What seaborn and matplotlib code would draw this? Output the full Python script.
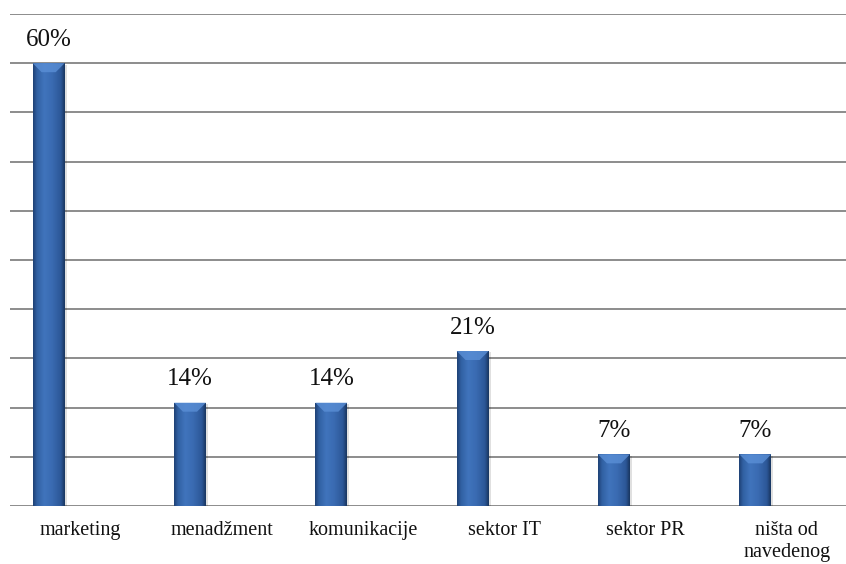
import numpy as np
import pandas as pd
import matplotlib
matplotlib.use("Agg")
import matplotlib.pyplot as plt
from matplotlib.colors import LinearSegmentedColormap
from matplotlib.patches import Polygon, Rectangle
import seaborn as sns

categories = ["marketing", "menadžment", "komunikacije", "sektor IT", "sektor PR", "ništa od\nnavedenog"]
values = [60, 14, 14, 21, 7, 7]

sns.set_theme(style="white")
plt.rcParams["font.family"] = ["Liberation Serif", "DejaVu Serif"]

df = pd.DataFrame({"category": categories, "value": values})

W, H = 846, 564
fig = plt.figure(figsize=(W / 100, H / 100), dpi=100)
ax = fig.add_axes([9.5 / W, 58 / H, 848 / W, 492 / H])

bar_w = 0.226
shift = -0.223
sns.barplot(data=df, x="category", y="value", ax=ax, width=bar_w,
            color="#2f5f9f", saturation=1, edgecolor="none", zorder=3)

step = 20 / 3
ax.set_ylim(0, 10 * step)
ax.set_xlim(-0.5, len(categories) - 0.5)
ax.set_yticks(np.arange(11) * step)
ax.set_yticklabels([])
ax.yaxis.grid(True, color="#8c8c8c", linewidth=1.4, zorder=0)
ax.set_axisbelow(True)
for s in ax.spines.values():
    s.set_visible(False)
ax.tick_params(axis="x", length=0, pad=11, labelsize=14.5, colors="#111111")
ax.tick_params(axis="y", length=0)
ax.set_xlabel("")
ax.set_ylabel("")

# cylinder-like horizontal shading across each bar
shade = LinearSegmentedColormap.from_list(
    "barshade",
    [(0.0, "#1f4175"), (0.12, "#3161a3"), (0.35, "#4074bc"),
     (0.6, "#3a6bb2"), (0.88, "#2c5797"), (1.0, "#193660")])
grad = np.linspace(0, 1, 64).reshape(1, -1)

px_per_unit = 492 / (10 * step)
for patch, v in zip(ax.patches, values):
    patch.set_x(patch.get_x() + shift)
    x0 = patch.get_x()
    w = patch.get_width()
    # soft shadow to the right and below
    sh = Rectangle((x0 + 0.006, -0.25), w + 0.008, v + 0.05, facecolor="#000000",
                   alpha=0.12, edgecolor="none", zorder=2.5)
    ax.add_patch(sh)
    im = ax.imshow(grad, cmap=shade, extent=(x0, x0 + w, 0, v), aspect="auto",
                   zorder=3.1, interpolation="bicubic")
    im.set_clip_path(patch)
    # bevelled lighter top
    bev = 9 / px_per_unit
    top = Polygon([(x0, v), (x0 + w, v), (x0 + w * 0.72, v - bev), (x0 + w * 0.28, v - bev)],
                  closed=True, facecolor="#5a8fd6", edgecolor="none", alpha=0.8, zorder=3.2)
    ax.add_patch(top)
    ax.annotate(f"{v}%", xy=(x0 + w / 2, v), xytext=(0, 9), textcoords="offset points",
                ha="center", va="bottom", fontsize=18, color="#111111", zorder=4)

ax.set_ylim(0, 10 * step)
ax.set_xlim(-0.5, len(categories) - 0.5)

fig.savefig("out.png", dpi=100, facecolor="white")
